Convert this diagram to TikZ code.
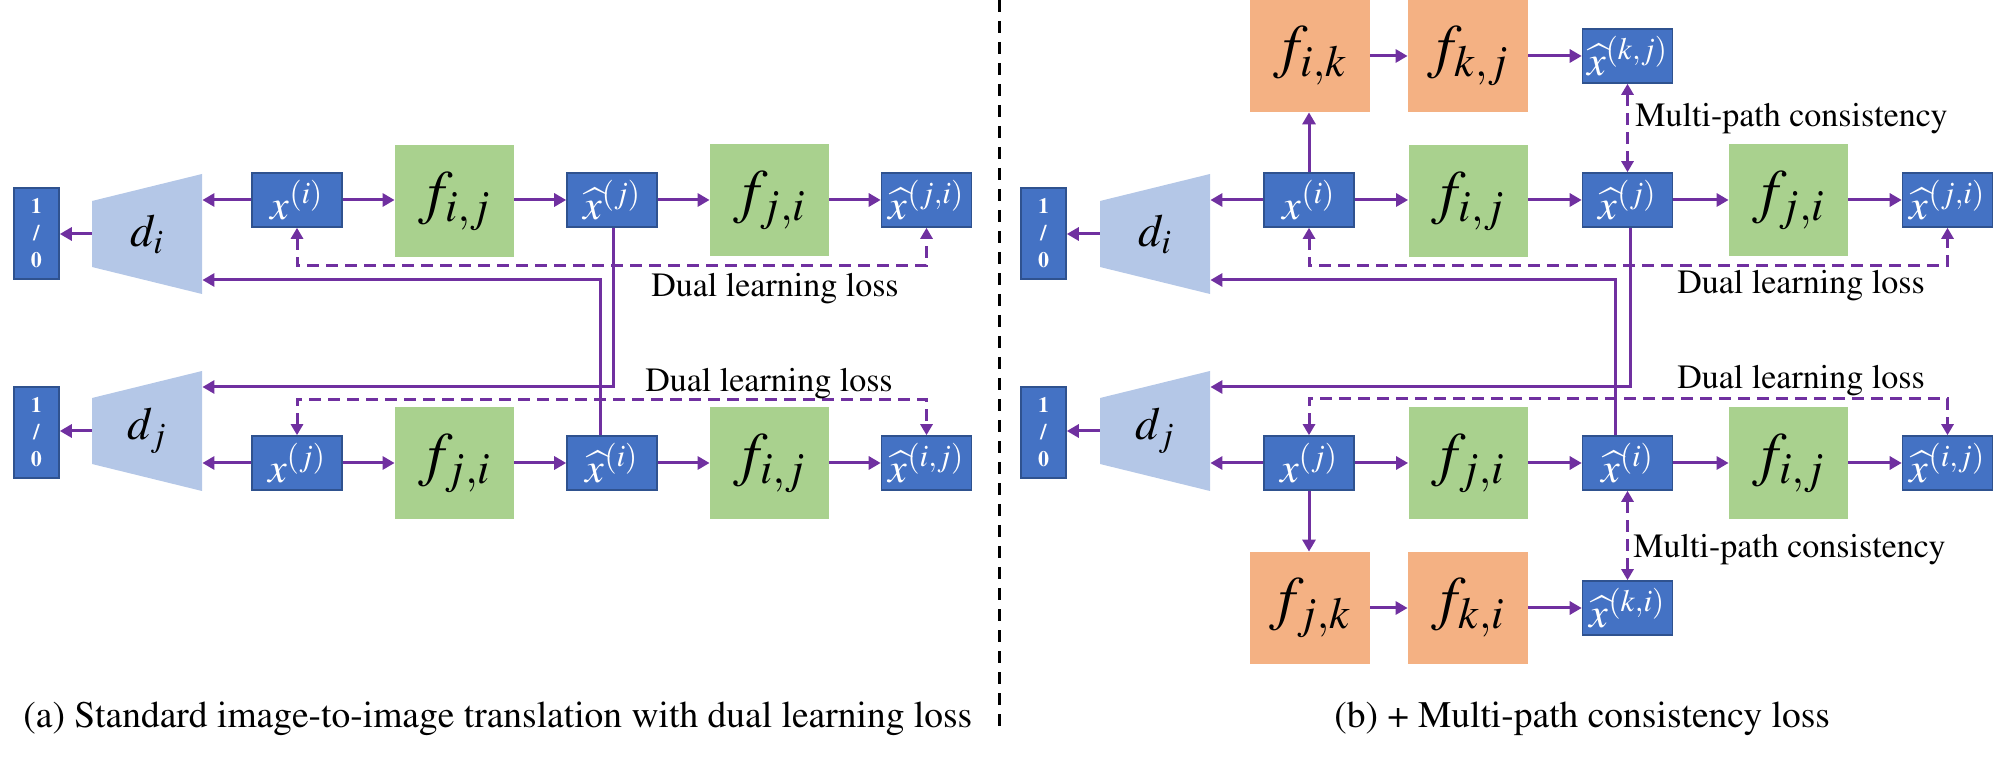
\documentclass[tikz,border=0pt]{standalone}
\usepackage[T1]{fontenc}
\usepackage{mathptmx}
\usetikzlibrary{arrows.meta,calc}
\definecolor{boxblue}{HTML}{4472C4}
\definecolor{boxborder}{HTML}{2F528F}
\definecolor{fgreen}{HTML}{A9D18E}
\definecolor{forange}{HTML}{F4B183}
\definecolor{trap}{HTML}{B4C7E7}
\definecolor{arrowpurple}{HTML}{7030A0}
\begin{document}
\begin{tikzpicture}[x=0.5pt,y=-0.5pt,
 bbox/.style={draw=boxborder, line width=0.8pt, fill=boxblue, text=white, minimum width=45pt, minimum height=27pt, inner sep=0pt, font=\fontsize{21}{24}\selectfont},
 gbox/.style={fill=fgreen, minimum width=59.5pt, minimum height=56pt, inner sep=0pt, font=\fontsize{30}{34}\selectfont},
 obox/.style={fill=forange, minimum width=60pt, minimum height=56pt, inner sep=0pt, font=\fontsize{30}{34}\selectfont},
 bitbox/.style={draw=boxborder, line width=0.8pt, fill=boxblue, text=white, minimum width=22.5pt, minimum height=45.5pt, inner sep=0pt, align=center, font=\bfseries\fontsize{11}{13.5}\selectfont},
 disc/.style={minimum width=55pt, minimum height=60pt, inner sep=0pt, font=\fontsize{23}{26}\selectfont,
   path picture={\fill[trap] (path picture bounding box.north east) -- (path picture bounding box.south east) -- ([yshift=13.5pt]path picture bounding box.south west) -- ([yshift=-13.5pt]path picture bounding box.north west) -- cycle;}},
 arr/.style={draw=arrowpurple, line width=1.5pt, -{Triangle[length=6pt,width=6.5pt]}},
 dualarr/.style={draw=arrowpurple, line width=1.5pt, dash pattern=on 6pt off 3.5pt, {Triangle[length=5.5pt,width=6pt]}-{Triangle[length=5.5pt,width=6pt]}},
 lbl/.style={font=\fontsize{17}{20}\selectfont, inner sep=0pt},
 captext/.style={font=\fontsize{18.75}{22}\selectfont, inner sep=0pt},
 divider/.style={draw=black, line width=1.5pt, dash pattern=on 6pt off 4.5pt},
]
\useasboundingbox (0,0) rectangle (2011,763);

% ---------- left panel ----------
\node[bitbox] (o1) at (36.5,233.5) {1\\/\\0};
\node[disc] (di) at (147,234) {$d_i$};
\node[bbox] (xi) at (297,200) {$x^{(i)}$};
\node[gbox] (fij1) at (454.5,201) {$f_{i,j}$};
\node[bbox] (xhj) at (612,200) {$\widehat{x}^{(j)}$};
\node[gbox] (fji1) at (769.5,200) {$f_{j,i}$};
\node[bbox] (xhji) at (926.5,200) {$\widehat{x}^{(j,i)}$};

\node[bitbox] (o2) at (36.5,432.5) {1\\/\\0};
\node[disc] (dj) at (147,431) {$d_j$};
\node[bbox] (xj) at (297,463) {$x^{(j)}$};
\node[gbox] (fji2) at (454.5,463) {$f_{j,i}$};
\node[bbox] (xhi) at (612,463) {$\widehat{x}^{(i)}$};
\node[gbox] (fij2) at (769.5,463) {$f_{i,j}$};
\node[bbox] (xhij) at (926.5,463) {$\widehat{x}^{(i,j)}$};

\draw[arr] (di.west) -- (di.west -| o1.east);
\draw[arr] (xi.west) -- (xi.west -| di.east);
\draw[arr] (xi.east) -- (xi.east -| fij1.west);
\draw[arr] (fij1.east |- xhj.west) -- (xhj.west);
\draw[arr] (xhj.east) -- (xhj.east -| fji1.west);
\draw[arr] (fji1.east |- xhji.west) -- (xhji.west);

\draw[arr] (dj.west) -- (dj.west -| o2.east);
\draw[arr] (xj.west) -- (xj.west -| dj.east);
\draw[arr] (xj.east) -- (fji2.west);
\draw[arr] (fji2.east) -- (xhi.west);
\draw[arr] (xhi.east) -- (fij2.west);
\draw[arr] (fij2.east) -- (xhij.west);

\draw[arr] ([xshift=0.5pt]xhj.south) |- ([yshift=22pt]dj.east);
\draw[arr] ([xshift=-6pt]xhi.north) |- ([yshift=-23pt]di.east);

\draw[dualarr] (xi.south) -- ++(0,38) -| (xhji.south);
\draw[dualarr] (xj.north) -- ++(0,-36) -| (xhij.north);
\node[lbl, anchor=base] (dl1) at (775,297) {Dual learning loss};
\node[lbl, anchor=base] (dl2) at (769,392) {Dual learning loss};

% ---------- divider ----------
\draw[divider] (999,0) -- (999,727);

% ---------- right panel ----------
\node[bitbox] (o3) at (1043.5,233.5) {1\\/\\0};
\node[disc] (di2) at (1155,234) {$d_i$};
\node[bbox] (xi2) at (1309,200) {$x^{(i)}$};
\node[gbox] (fij3) at (1468,201) {$f_{i,j}$};
\node[bbox] (xhj2) at (1627.5,200) {$\widehat{x}^{(j)}$};
\node[gbox] (fji3) at (1788.5,200) {$f_{j,i}$};
\node[bbox] (xhji2) at (1947.5,200) {$\widehat{x}^{(j,i)}$};

\node[obox] (fik) at (1310,56) {$f_{i,k}$};
\node[obox] (fkj) at (1468,56) {$f_{k,j}$};
\node[bbox] (xhkj) at (1627.5,56) {$\widehat{x}^{(k,j)}$};

\node[bitbox] (o4) at (1043.5,432.5) {1\\/\\0};
\node[disc] (dj2) at (1155,431) {$d_j$};
\node[bbox] (xj2) at (1309,463) {$x^{(j)}$};
\node[gbox] (fji4) at (1468,463) {$f_{j,i}$};
\node[bbox] (xhi2) at (1627.5,463) {$\widehat{x}^{(i)}$};
\node[gbox] (fij4) at (1788.5,463) {$f_{i,j}$};
\node[bbox] (xhij2) at (1947.5,463) {$\widehat{x}^{(i,j)}$};

\node[obox] (fjk) at (1310,608) {$f_{j,k}$};
\node[obox] (fki) at (1468,608) {$f_{k,i}$};
\node[bbox] (xhki) at (1627.5,608) {$\widehat{x}^{(k,i)}$};

\draw[arr] (di2.west) -- (di2.west -| o3.east);
\draw[arr] (xi2.west) -- (xi2.west -| di2.east);
\draw[arr] (xi2.east) -- (xi2.east -| fij3.west);
\draw[arr] (fij3.east |- xhj2.west) -- (xhj2.west);
\draw[arr] (xhj2.east) -- (xhj2.east -| fji3.west);
\draw[arr] (fji3.east |- xhji2.west) -- (xhji2.west);

\draw[arr] (xi2.north) -- (xi2.north |- fik.south);
\draw[arr] (fik.east) -- (fkj.west);
\draw[arr] (fkj.east) -- (xhkj.west);
\draw[dualarr] (xhkj.south) -- (xhj2.north);
\node[lbl, anchor=base west] (mp1) at (1635,127) {Multi-path consistency};

\draw[arr] (dj2.west) -- (dj2.west -| o4.east);
\draw[arr] (xj2.west) -- (xj2.west -| dj2.east);
\draw[arr] (xj2.east) -- (fji4.west);
\draw[arr] (fji4.east) -- (xhi2.west);
\draw[arr] (xhi2.east) -- (fij4.west);
\draw[arr] (fij4.east) -- (xhij2.west);

\draw[arr] (xj2.south) -- (xj2.south |- fjk.north);
\draw[arr] (fjk.east) -- (fki.west);
\draw[arr] (fki.east) -- (xhki.west);
\draw[dualarr] (xhi2.south) -- (xhki.north);
\node[lbl, anchor=base west] (mp2) at (1633,558) {Multi-path consistency};

\draw[arr] ([xshift=1.25pt]xhj2.south) |- ([yshift=22pt]dj2.east);
\draw[arr] ([xshift=-6.25pt]xhi2.north) |- ([yshift=-23pt]di2.east);

\draw[dualarr] (xi2.south) -- ++(0,38) -| (xhji2.south);
\draw[dualarr] (xj2.north) -- ++(0,-37) -| (xhij2.north);
\node[lbl, anchor=base] (dl3) at (1801,294) {Dual learning loss};
\node[lbl, anchor=base] (dl4) at (1801,389) {Dual learning loss};

% ---------- captions ----------
\node[captext, anchor=base west] (capa) at (23,727) {(a) Standard image-to-image translation with dual learning loss};
\node[captext, anchor=base west] (capb) at (1334,727) {(b) + Multi-path consistency loss};
\end{tikzpicture}
\end{document}
